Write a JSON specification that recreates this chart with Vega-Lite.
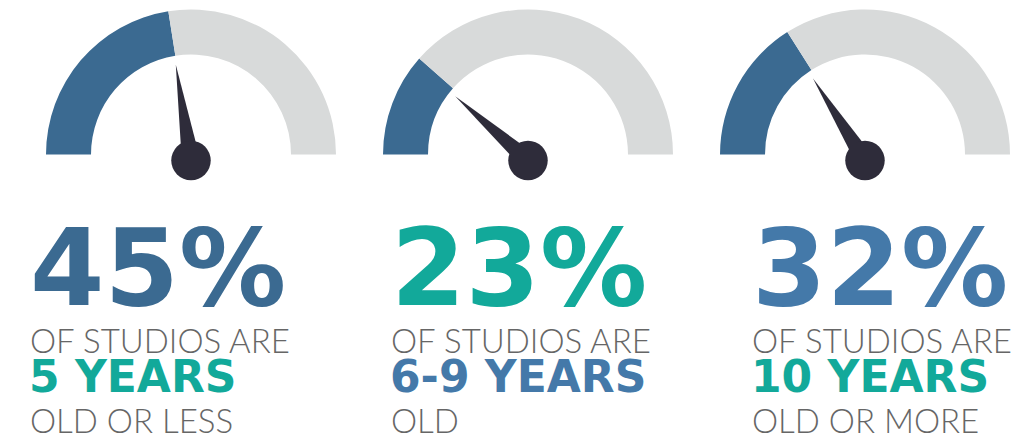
{
  "$schema": "https://vega.github.io/schema/vega-lite/v6.json",
  "width": 1025,
  "height": 438,
  "autosize": {"type": "fit", "contains": "padding"},
  "padding": 0,
  "background": "#ffffff",
  "config": {"view": {"stroke": null}},
  "datasets": {
    "gauges": [
      {"gauge": "5 years or less", "value": 45, "pct": "45%", "line1": "OF STUDIOS ARE", "line2": "5 YEARS", "line3": "OLD OR LESS"},
      {"gauge": "6-9 years", "value": 23, "pct": "23%", "line1": "OF STUDIOS ARE", "line2": "6-9 YEARS", "line3": "OLD"},
      {"gauge": "10 years or more", "value": 32, "pct": "32%", "line1": "OF STUDIOS ARE", "line2": "10 YEARS", "line3": "OLD OR MORE"}
    ],
    "segments": [
      {"gauge": "5 years or less", "segment": "share", "start": 0, "end": 45},
      {"gauge": "5 years or less", "segment": "rest", "start": 45, "end": 100},
      {"gauge": "6-9 years", "segment": "share", "start": 0, "end": 23},
      {"gauge": "6-9 years", "segment": "rest", "start": 23, "end": 100},
      {"gauge": "10 years or more", "segment": "share", "start": 0, "end": 32},
      {"gauge": "10 years or more", "segment": "rest", "start": 32, "end": 100}
    ]
  },
  "resolve": {"scale": {"x": "independent", "color": "independent"}},
  "layer": [
    {
      "data": {"name": "segments"},
      "mark": {"type": "arc", "radius": 145, "radius2": 100, "yOffset": -63},
      "encoding": {
        "x": {"field": "gauge", "type": "nominal", "axis": null, "scale": {"type": "point", "domain": ["5 years or less", "6-9 years", "10 years or more"], "range": [191, 865], "padding": 0}},
        "theta": {"field": "start", "type": "quantitative", "stack": null, "scale": {"domain": [0, 100], "range": [-1.5707963, 1.5707963], "nice": false}},
        "theta2": {"field": "end"},
        "color": {"field": "segment", "type": "nominal", "legend": null, "scale": {"domain": ["share", "rest"], "range": ["#3b6a91", "#d8dada"]}}
      }
    },
    {
      "data": {"name": "gauges"},
      "mark": {"type": "point", "shape": "M -0.095 0 L 0 -1 L 0.095 0 Z", "size": 37636, "filled": true, "opacity": 1, "color": "#2e2c3a", "strokeWidth": 0, "yOffset": -57},
      "encoding": {
        "x": {"field": "gauge", "type": "nominal", "axis": null, "scale": {"type": "point", "domain": ["5 years or less", "6-9 years", "10 years or more"], "range": [191, 865], "padding": 0}},
        "angle": {"field": "value", "type": "quantitative", "legend": null, "scale": {"domain": [0, 100], "range": [-90, 90]}}
      }
    },
    {
      "data": {"name": "gauges"},
      "mark": {"type": "circle", "size": 1560, "opacity": 1, "color": "#2e2c3a", "yOffset": -57},
      "encoding": {
        "x": {"field": "gauge", "type": "nominal", "axis": null, "scale": {"type": "point", "domain": ["5 years or less", "6-9 years", "10 years or more"], "range": [191, 865], "padding": 0}}
      }
    },
    {
      "data": {"name": "gauges"},
      "mark": {"type": "text", "align": "left", "baseline": "alphabetic", "font": "DejaVu Sans", "fontWeight": "bold", "fontSize": 107, "dy": 87},
      "encoding": {
        "x": {"field": "gauge", "type": "nominal", "axis": null, "scale": {"type": "point", "domain": ["5 years or less", "6-9 years", "10 years or more"], "range": [30, 752], "padding": 0}},
        "text": {"field": "pct"},
        "color": {"field": "gauge", "type": "nominal", "legend": null, "scale": {"domain": ["5 years or less", "6-9 years", "10 years or more"], "range": ["#3b6a91", "#12a99a", "#4479a9"]}}
      }
    },
    {
      "data": {"name": "gauges"},
      "mark": {"type": "text", "align": "left", "baseline": "alphabetic", "font": "Lato", "fontWeight": 300, "fontSize": 33, "color": "#666666", "dy": 135},
      "encoding": {
        "x": {"field": "gauge", "type": "nominal", "axis": null, "scale": {"type": "point", "domain": ["5 years or less", "6-9 years", "10 years or more"], "range": [30, 752], "padding": 0}},
        "text": {"field": "line1"}
      }
    },
    {
      "data": {"name": "gauges"},
      "mark": {"type": "text", "align": "left", "baseline": "alphabetic", "font": "DejaVu Sans", "fontWeight": "bold", "fontSize": 44, "dy": 174},
      "encoding": {
        "x": {"field": "gauge", "type": "nominal", "axis": null, "scale": {"type": "point", "domain": ["5 years or less", "6-9 years", "10 years or more"], "range": [29, 751], "padding": 0}},
        "text": {"field": "line2"},
        "color": {"field": "gauge", "type": "nominal", "legend": null, "scale": {"domain": ["5 years or less", "6-9 years", "10 years or more"], "range": ["#12a99a", "#4479a9", "#12a99a"]}}
      }
    },
    {
      "data": {"name": "gauges"},
      "mark": {"type": "text", "align": "left", "baseline": "alphabetic", "font": "Lato", "fontWeight": 300, "fontSize": 33, "color": "#666666", "dy": 215},
      "encoding": {
        "x": {"field": "gauge", "type": "nominal", "axis": null, "scale": {"type": "point", "domain": ["5 years or less", "6-9 years", "10 years or more"], "range": [30, 752], "padding": 0}},
        "text": {"field": "line3"}
      }
    }
  ]
}
